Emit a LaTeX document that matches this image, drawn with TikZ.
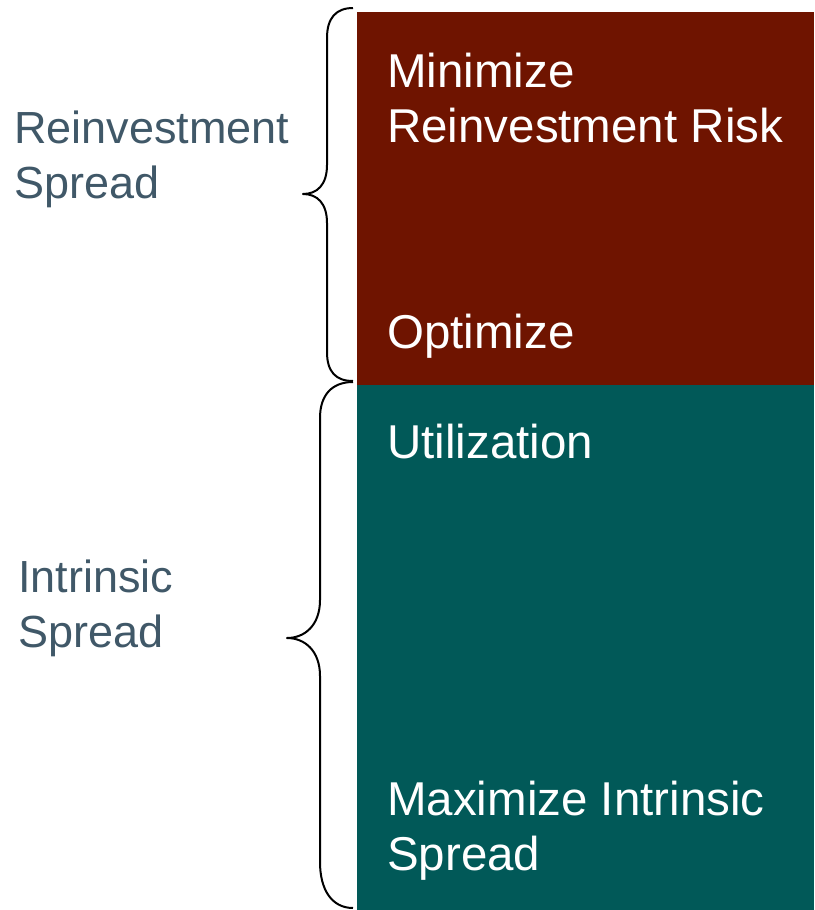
\documentclass[tikz,border=0pt]{standalone}
\usepackage{fontspec}
\setmainfont{Liberation Sans}
\definecolor{redbox}{RGB}{111,20,0}
\definecolor{tealbox}{RGB}{1,89,88}
\definecolor{labelgrey}{RGB}{64,88,104}
\begin{document}
\begin{tikzpicture}[x=1pt,y=-1pt,
  boxtext/.style={anchor=base west,inner sep=0pt,text=white,font=\fontsize{47.5}{55}\selectfont,align=left},
  sidetext/.style={anchor=base west,inner sep=0pt,text=labelgrey,font=\fontsize{45}{55}\selectfont,align=left},
  bracestyle/.style={draw=black,line width=2pt,line join=round}]
\useasboundingbox (0,0) rectangle (814,910);
\fill[redbox] (357,12) rectangle (814,385);
\fill[tealbox] (357,385) rectangle (814,910);
% box texts (anchor = baseline of last line)
\node[boxtext] (minrisk) at (387,142) {Minimize\\Reinvestment Risk};
\node[boxtext] (optim) at (387,348) {Optimize};
\node[boxtext] (util) at (387,458) {Utilization};
\node[boxtext] (maxint) at (387,870) {Maximize Intrinsic\\Spread};
% side labels
\node[sidetext] (reinv) at (14,198) {Reinvestment\\Spread};
\node[sidetext] (intr) at (18,647) {Intrinsic\\Spread};
% braces
\draw[bracestyle] (353,8) .. controls (336,8) and (327,18) .. (327,38) -- (327,165)
  .. controls (327,185) and (317,194) .. (303,194)
  .. controls (317,194) and (327,203) .. (327,223) -- (327,352)
  .. controls (327,372) and (336,381) .. (353,381);
\draw[bracestyle] (353,382) .. controls (332,382) and (320,395) .. (320,418) -- (320,600)
  .. controls (320,625) and (305,638) .. (287,638)
  .. controls (305,638) and (320,651) .. (320,676) -- (320,862)
  .. controls (320,890) and (332,908) .. (353,908);
\end{tikzpicture}
\end{document}
